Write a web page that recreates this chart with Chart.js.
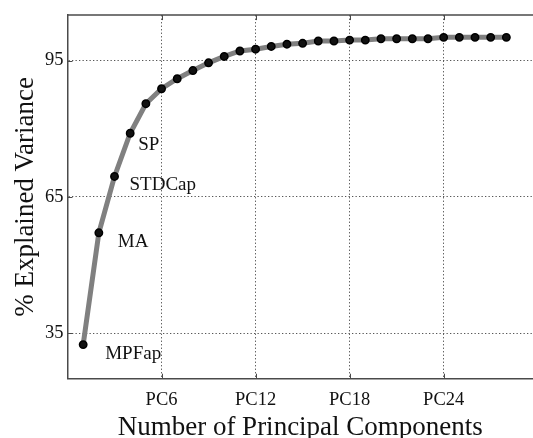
<!DOCTYPE html>
<html>
<head>
<meta charset="utf-8">
<script src="https://cdn.jsdelivr.net/npm/chart.js@4"></script>
<style>
  html, body { margin: 0; padding: 0; background: #fff; overflow: hidden; }
  #wrap { position: relative; width: 533px; height: 438px; overflow: hidden; background: #fff; }
  #c { position: absolute; left: 0; top: 0; }
</style>
</head>
<body>
<div id="wrap"><canvas id="c" width="533" height="450"></canvas></div>
<script>
// ---- data ----
const components = [1, 2, 3, 4, 5, 6, 7, 8, 9, 10, 11, 12, 13, 14, 15, 16, 17, 18, 19, 20, 21, 22, 23, 24, 25, 26, 27, 28];
const explainedVariance = [32.5, 57.1, 69.5, 79.0, 85.5, 88.8, 91.0, 92.8, 94.5, 95.9, 97.1, 97.5, 98.1, 98.6, 98.8, 99.3, 99.3, 99.5, 99.5, 99.8, 99.8, 99.8, 99.8, 100.1, 100.1, 100.1, 100.1, 100.1];
const xTickValues = [6, 12, 18, 24];
const xTickLabels = ['PC6', 'PC12', 'PC18', 'PC24'];
const yTickValues = [35, 65, 95];
const annotationComponents = [1, 2, 3, 4];
const annotationTexts = ['MPFap', 'MA', 'STDCap', 'SP'];
const xTitle = 'Number of Principal Components';
const yTitle = '% Explained Variance';

// ---- styles ----
const SERIF = "'Liberation Serif', 'Times New Roman', serif";
const TEXT = '#111';
const AXIS = '#4a4a4a';
const labelOffsets = [[22, 9], [19, 9], [15, 9], [8, 12]];

const frame = {
  id: 'frame',
  afterDatasetsDraw(chart) {
    const {ctx, chartArea: a, scales} = chart;
    ctx.save();
    // top border
    ctx.strokeStyle = AXIS;
    ctx.lineWidth = 1.5;
    ctx.beginPath();
    ctx.moveTo(a.left, a.top);
    ctx.lineTo(a.right, a.top);
    ctx.stroke();
    // inward tick marks
    ctx.lineWidth = 1;
    ctx.beginPath();
    xTickValues.forEach(v => {
      const px = Math.round(scales.x.getPixelForValue(v)) + 0.5;
      ctx.moveTo(px, a.bottom); ctx.lineTo(px, a.bottom - 5);
      ctx.moveTo(px, a.top); ctx.lineTo(px, a.top + 5);
    });
    yTickValues.forEach(v => {
      const py = Math.round(scales.y.getPixelForValue(v)) + 0.5;
      ctx.moveTo(a.left, py); ctx.lineTo(a.left + 5, py);
    });
    ctx.stroke();
    // annotations
    ctx.fillStyle = TEXT;
    ctx.font = "19px " + SERIF;
    ctx.textAlign = 'left';
    ctx.textBaseline = 'middle';
    annotationComponents.forEach((pc, i) => {
      const idx = components.indexOf(pc);
      const px = scales.x.getPixelForValue(pc) + labelOffsets[i][0];
      const py = scales.y.getPixelForValue(explainedVariance[idx]) + labelOffsets[i][1];
      ctx.fillText(annotationTexts[i], px, py);
    });
    ctx.restore();
  }
};

new Chart(document.getElementById('c'), {
  type: 'line',
  data: {
    datasets: [{
      data: components.map((c, i) => ({x: c, y: explainedVariance[i]})),
      borderColor: '#808080',
      borderWidth: 5,
      tension: 0,
      pointRadius: 3.7,
      pointBorderWidth: 1.5,
      pointBackgroundColor: '#111',
      pointBorderColor: '#000',
      fill: false
    }]
  },
  options: {
    responsive: false,
    devicePixelRatio: 1,
    animation: false,
    events: [],
    layout: { autoPadding: false, padding: { top: 14, right: 0, left: 0, bottom: 0 } },
    plugins: { legend: { display: false }, tooltip: { enabled: false } },
    scales: {
      x: {
        type: 'linear',
        min: 0,
        max: 29.7,
        afterBuildTicks: s => { s.ticks = xTickValues.map(v => ({value: v})); },
        afterFit: s => { s.height = 71.3; },
        ticks: {
          callback: v => xTickLabels[xTickValues.indexOf(v)],
          font: { family: SERIF, size: 18.5 },
          color: TEXT,
          padding: 10,
          maxRotation: 0,
          autoSkip: false
        },
        grid: { color: '#555', lineWidth: 1, drawTicks: false },
        border: { display: true, color: AXIS, width: 1.5, dash: [1.3, 2.2] },
        title: {
          display: true,
          text: xTitle,
          font: { family: SERIF, size: 27 },
          color: TEXT,
          padding: { top: 0, bottom: 5.8 }
        }
      },
      y: {
        type: 'linear',
        min: 25,
        max: 105,
        afterBuildTicks: s => { s.ticks = yTickValues.map(v => ({value: v})); },
        afterFit: s => { s.width = 67.5; },
        ticks: {
          font: { family: SERIF, size: 18.5 },
          color: TEXT,
          padding: 4
        },
        grid: { color: '#555', lineWidth: 1, drawTicks: false },
        border: { display: true, color: AXIS, width: 1.5, dash: [1.3, 2.2] },
        title: {
          display: true,
          text: yTitle,
          font: { family: SERIF, size: 27 },
          color: TEXT,
          padding: { top: 9.4, bottom: 0 }
        }
      }
    }
  },
  plugins: [frame]
});
</script>
</body>
</html>
